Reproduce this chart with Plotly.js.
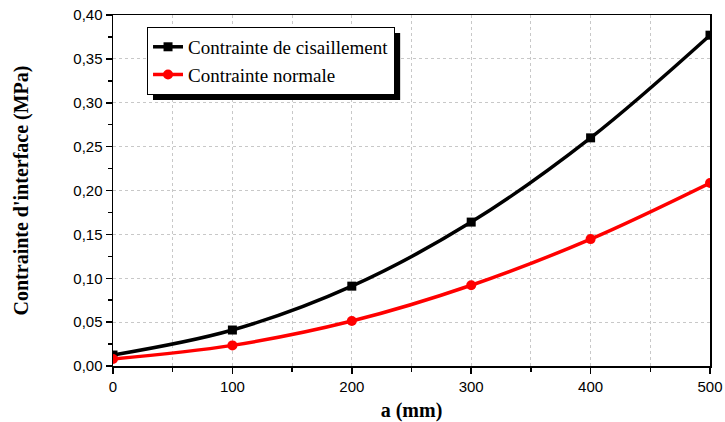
<!DOCTYPE html>
<html><head><meta charset="utf-8">
<script src="https://cdn.plot.ly/plotly-3.0.1.min.js"></script>
<style>body{margin:0;background:#fff}#c{width:725px;height:422px}</style>
</head><body><div id="c"></div>
<script>
const aValues = [0, 100, 200, 300, 400, 500];
const shearStress = [0.0125, 0.041, 0.091, 0.164, 0.260, 0.377];
const normalStress = [0.008, 0.0235, 0.0512, 0.092, 0.1446, 0.2085];
const seriesNames = ['Contrainte de cisaillement', 'Contrainte normale'];

const traces = [
  {x: aValues, y: shearStress, name: seriesNames[0], mode: 'lines+markers',
   line: {color: '#000', width: 3.5, shape: 'spline'}, marker: {symbol: 'square', size: 9, color: '#000'}},
  {x: aValues, y: normalStress, name: seriesNames[1], mode: 'lines+markers',
   line: {color: '#ff0000', width: 3.5, shape: 'spline'}, marker: {symbol: 'circle', size: 10, color: '#ff0000'}}
];
const layout = {
  width: 725, height: 422, separators: ',.',
  margin: {l: 113, r: 15, t: 15, b: 56},
  paper_bgcolor: '#fff', plot_bgcolor: '#fff',
  showlegend: true,
  legend: {x: 0.057, y: 0.966, xanchor: 'left', yanchor: 'top', bgcolor: '#fff', bordercolor: '#000', borderwidth: 1,
    font: {family: 'Liberation Serif', size: 19, color: '#000'}, tracegroupgap: 0},
  xaxis: {range: [0, 500], dtick: 100, tick0: 0, ticks: 'outside', ticklen: 6, tickwidth: 1.5, tickcolor: '#000',
    showline: true, linecolor: '#000', linewidth: 1.5, mirror: true, showgrid: true, gridcolor: '#c8c8c8', griddash: 'dot',
    zeroline: false, tickfont: {family: 'Liberation Sans', size: 15, color: '#000'},
    minor: {dtick: 50, ticks: 'outside', ticklen: 4, tickcolor: '#000', showgrid: true, gridcolor: '#c8c8c8', griddash: 'dot'},
    title: {text: 'a (mm)', font: {family: 'Liberation Serif', size: 20, color: '#000', weight: 'bold'}, standoff: 10}},
  yaxis: {range: [0, 0.40], dtick: 0.05, tick0: 0, tickformat: '.2f', ticks: 'outside', ticklen: 6, tickwidth: 1.5, tickcolor: '#000',
    showline: true, linecolor: '#000', linewidth: 1.5, mirror: true, showgrid: true, gridcolor: '#c8c8c8', griddash: 'dot',
    zeroline: false, tickfont: {family: 'Liberation Sans', size: 15, color: '#000'},
    minor: {dtick: 0.025, ticks: 'outside', ticklen: 4, tickcolor: '#000', showgrid: false},
    title: {text: "Contrainte d'interface (MPa)", font: {family: 'Liberation Serif', size: 20, color: '#000', weight: 'bold'}, standoff: 39}},
  shapes: [
    {type: 'rect', xref: 'paper', yref: 'paper', x0: 0.067, x1: 0.481, y0: 0.758, y1: 0.949, fillcolor: '#000', line: {width: 0}, layer: 'above'}
  ]
};
Plotly.newPlot('c', traces, layout, {displayModeBar: false, staticPlot: true});
</script></body></html>
